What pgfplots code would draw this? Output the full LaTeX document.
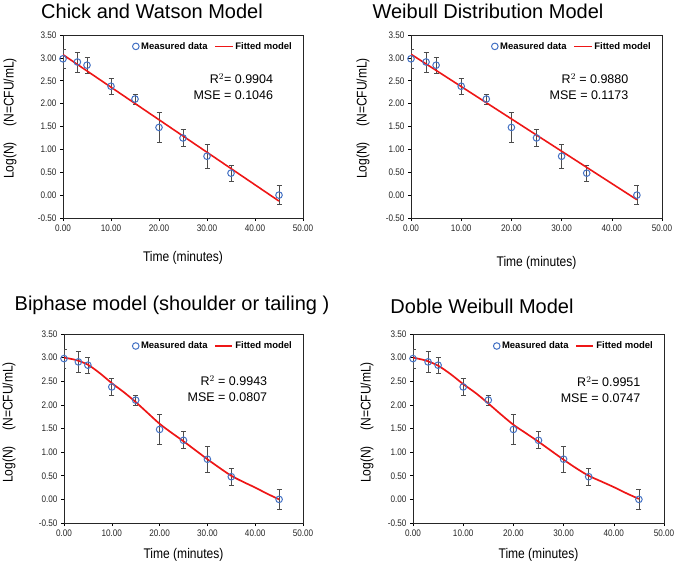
\documentclass[border=0pt]{standalone}
\usepackage{fontspec}
\setmainfont{Liberation Sans}
\newfontfamily\narrowfont[FakeStretch=0.86]{Liberation Sans}
\usepackage{pgfplots}
\pgfplotsset{compat=1.18}
\usepackage{pgfplotstable}

\definecolor{mblue}{RGB}{68,114,196}
\definecolor{mred}{RGB}{238,22,22}

\pgfplotstableread{
x y err
0 2.98 0.20
3 2.91 0.22
5 2.84 0.17
10 2.38 0.18
15 2.10 0.11
20 1.48 0.32
25 1.25 0.18
30 0.85 0.27
35 0.48 0.18
45 0.00 0.21
}\measured

\pgfplotstableread{
x y
0 3.07
45 -0.13
}\fitA

\pgfplotstableread{
x y
0 3.08
45 -0.10
}\fitB

\pgfplotstableread{
x y
0 3.00
2.5 2.95
5 2.85
7.5 2.67
10 2.46
12.5 2.27
15 2.06
17.5 1.83
20 1.60
22.5 1.41
25 1.23
27.5 1.04
30 0.85
32.5 0.67
35 0.50
37.5 0.37
40 0.25
42.5 0.12
45 0.00
}\fitC

\pgfplotstableread{
x y
0 3.00
2.5 2.94
5 2.83
7.5 2.65
10 2.44
12.5 2.25
15 2.03
17.5 1.80
20 1.58
22.5 1.40
25 1.22
27.5 1.03
30 0.84
32.5 0.66
35 0.50
37.5 0.38
40 0.26
42.5 0.13
45 0.01
}\fitD

\newcommand{\tickfont}{\narrowfont\fontsize{9.5}{10}\selectfont}
\newcommand{\labfont}{\narrowfont\fontsize{14}{16}\selectfont}

\pgfplotsset{
  panel/.style={
    scale only axis, anchor=south west,
    xmin=0, xmax=50, ymin=-0.5, ymax=3.5,
    xtick={0,10,...,50}, ytick={-0.5,0,...,3.5},
    tick align=outside, major tick length=3pt,
    xtick pos=bottom, ytick pos=left,
    tick style={black, line width=0.6pt},
    axis line style={black!85, line width=0.8pt},
    xlabel={Time (minutes)},
    ylabel={Log(N)\hspace{1.1em}(N=CFU/mL)},
    legend style={draw=none, fill=none, font=\bfseries\fontsize{9.5}{11}\selectfont,
      at={(1,1)}, anchor=north east, xshift=-6pt, yshift=-3pt,
      /tikz/every even column/.append style={column sep=5pt}},
    legend columns=2, legend cell align=left,
    xticklabel style={font=\tickfont, text=black!85},
    yticklabel style={font=\tickfont, text=black!85},
    xticklabel={\pgfmathprintnumber[fixed,fixed zerofill,precision=2,assume math mode=true]{\tick}},
    yticklabel={\pgfmathprintnumber[fixed,fixed zerofill,precision=2,assume math mode=true]{\tick}},
  },
  meas/.style={only marks, mark=o, mark size=3.3pt,
    mark options={draw=mblue, line width=1pt},
    error bars/.cd, y dir=both, y explicit,
    error bar style={black!70, line width=0.7pt},
    error mark options={black!70, line width=0.7pt, rotate=90, mark size=2.5pt}},
}

\begin{document}
\begin{tikzpicture}
\useasboundingbox (0,0) rectangle (676pt,566pt);

% Panel 1
\begin{axis}[panel, at={(63pt,348pt)}, width=240pt, height=183pt,
  every axis x label/.style={at={(axis description cs:0.5,0)}, anchor=center, yshift=-40pt, font=\labfont},
  every axis y label/.style={at={(axis description cs:0,0.5)}, anchor=center, xshift=-53pt, yshift=8pt, rotate=90, font=\labfont}]
\addplot[meas] table[x=x, y=y, y error=err] {\measured};
\addlegendentry{Measured data}
\addplot[color=mred, line width=1.6pt, no marks] table[x=x, y=y] {\fitA};
\addlegendentry{Fitted model}
\node[anchor=east, align=right, font=\fontsize{12.5}{16}\selectfont] at (rel axis cs:0.89,0.716) {R$^{2}$= 0.9904\\MSE = 0.1046};
\end{axis}

% Panel 2
\begin{axis}[panel, at={(411pt,348pt)}, width=251pt, height=183pt,
  every axis x label/.style={at={(axis description cs:0.5,0)}, anchor=center, yshift=-45pt, font=\labfont},
  every axis y label/.style={at={(axis description cs:0,0.5)}, anchor=center, xshift=-48pt, yshift=8pt, rotate=90, font=\labfont}]
\addplot[meas] table[x=x, y=y, y error=err] {\measured};
\addlegendentry{Measured data}
\addplot[color=mred, line width=1.6pt, no marks] table[x=x, y=y] {\fitB};
\addlegendentry{Fitted model}
\node[anchor=east, align=right, font=\fontsize{12.5}{16}\selectfont] at (rel axis cs:0.88,0.716) {R$^{2}$ = 0.9880\\MSE = 0.1173};
\end{axis}

% Panel 3
\begin{axis}[panel, at={(64pt,43pt)}, width=239pt, height=189pt,
  legend style={yshift=-0.6pt},
  every axis x label/.style={at={(axis description cs:0.5,0)}, anchor=center, yshift=-32pt, font=\labfont},
  every axis y label/.style={at={(axis description cs:0,0.5)}, anchor=center, xshift=-55pt, yshift=6pt, rotate=90, font=\labfont}]
\addplot[meas] table[x=x, y=y, y error=err] {\measured};
\addlegendentry{Measured data}
\addplot[color=mred, line width=1.7pt, no marks, smooth] table[x=x, y=y] {\fitC};
\addlegendentry{Fitted model}
\node[anchor=east, align=right, font=\fontsize{12.5}{16}\selectfont] at (rel axis cs:0.865,0.712) {R$^{2}$ = 0.9943\\MSE = 0.0807};
\end{axis}

% Panel 4
\begin{axis}[panel, at={(413pt,43pt)}, width=251pt, height=189pt,
  legend style={yshift=-0.6pt},
  every axis x label/.style={at={(axis description cs:0.5,0)}, anchor=center, yshift=-32pt, font=\labfont},
  every axis y label/.style={at={(axis description cs:0,0.5)}, anchor=center, xshift=-46pt, yshift=6pt, rotate=90, font=\labfont}]
\addplot[meas] table[x=x, y=y, y error=err] {\measured};
\addlegendentry{Measured data}
\addplot[color=mred, line width=1.7pt, no marks, smooth] table[x=x, y=y] {\fitD};
\addlegendentry{Fitted model}
\node[anchor=east, align=right, font=\fontsize{12.5}{16}\selectfont] at (rel axis cs:0.92,0.706) {R$^{2}$= 0.9951\\MSE = 0.0747};
\end{axis}

% Titles
\node[font=\fontsize{20}{24}\selectfont] at (152pt,555pt) {Chick and Watson Model};
\node[font=\fontsize{20}{24}\selectfont] at (488pt,555pt) {Weibull Distribution Model};
\node[font=\fontsize{20}{24}\selectfont] at (172pt,261pt) {Biphase model (shoulder or tailing )};
\node[font=\fontsize{20}{24}\selectfont] at (482pt,260pt) {Doble Weibull Model};
\end{tikzpicture}
\end{document}
